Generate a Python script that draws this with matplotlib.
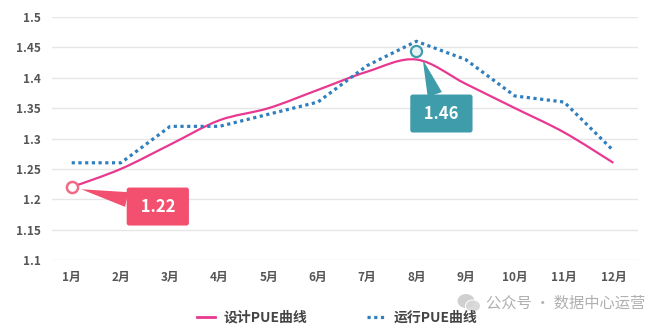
import matplotlib.pyplot as plt
from matplotlib.path import Path
from matplotlib.patches import PathPatch, Ellipse
from matplotlib.transforms import offset_copy

plt.rcParams['font.family'] = ['Noto Sans CJK SC', 'DejaVu Sans']

# ---------- données ----------
months = ["1月", "2月", "3月", "4月", "5月", "6月",
          "7月", "8月", "9月", "10月", "11月", "12月"]
design_pue = [1.22, 1.25, 1.29, 1.33, 1.35, 1.38, 1.41, 1.43, 1.39, 1.35, 1.31, 1.26]
run_pue = [1.26, 1.26, 1.32, 1.32, 1.34, 1.36, 1.42, 1.46, 1.43, 1.37, 1.36, 1.28]
y_ticks = [1.1, 1.15, 1.2, 1.25, 1.3, 1.35, 1.4, 1.45, 1.5]

PINK = "#e8388f"
BLUE = "#2f7fbf"
RED_TAG = "#f2506e"
TEAL_TAG = "#3f9cab"


def smooth_path(xs, ys, s=1 / 6):
    # courbe de Bézier cubique passant par chaque point (type Catmull-Rom)
    pts = list(zip(xs, ys))
    n = len(pts)
    verts = [pts[0]]
    codes = [Path.MOVETO]
    for i in range(n - 1):
        p0 = pts[max(i - 1, 0)]
        p1 = pts[i]
        p2 = pts[i + 1]
        p3 = pts[min(i + 2, n - 1)]
        c1 = (p1[0] + s * (p2[0] - p0[0]), p1[1] + s * (p2[1] - p0[1]))
        c2 = (p2[0] - s * (p3[0] - p1[0]), p2[1] - s * (p3[1] - p1[1]))
        verts += [c1, c2, p2]
        codes += [Path.CURVE4] * 3
    return Path(verts, codes)


fig = plt.figure(figsize=(6.7, 3.34), dpi=100)
ax = fig.add_axes([52 / 670, 1 - 260 / 334, 586 / 670, 243 / 334])

x = list(range(len(months)))

# courbe de conception (lissée)
ax.add_patch(PathPatch(smooth_path(x, design_pue), fill=False,
                       edgecolor=PINK, lw=1.6, zorder=3))
# courbe d'exploitation (pointillés)
ax.plot(x, run_pue, color=BLUE, lw=2.3, linestyle=(0, (1, 1.1)),
        dash_capstyle="butt", zorder=3)

# handles pour la légende
ax.plot([], [], color=PINK, lw=2, label="设计PUE曲线")
ax.plot([], [], color=BLUE, lw=2.3, linestyle=(0, (1, 1.1)),
        dash_capstyle="butt", label="运行PUE曲线")

# points annotés
i_min = 0
i_max = run_pue.index(max(run_pue))
ax.plot(x[i_min], design_pue[i_min], "o", ms=8, mfc="white",
        mec="#f06a85", mew=1.8, zorder=5)
ax.plot(x[i_max], run_pue[i_max], "o", ms=8, mfc="#e6f3f5",
        mec=TEAL_TAG, mew=1.6, zorder=5,
        transform=offset_copy(ax.transData, fig=fig, y=-7, units="points"))

tag_style = dict(textcoords="offset points", ha="center", va="center",
                 fontsize=12, fontweight="bold", color="white", zorder=6)
ax.annotate(f" {design_pue[i_min]:.2f} ", xy=(x[i_min], design_pue[i_min]),
            xytext=(62, -14),
            bbox=dict(boxstyle="round,pad=0.6,rounding_size=0.15",
                      fc=RED_TAG, ec="none"),
            arrowprops=dict(arrowstyle="wedge,tail_width=0.9", fc=RED_TAG,
                            ec="none", shrinkA=0, shrinkB=7),
            **tag_style)
ax.annotate(f" {run_pue[i_max]:.2f} ", xy=(x[i_max], run_pue[i_max]),
            xytext=(18, -52),
            bbox=dict(boxstyle="round,pad=0.6,rounding_size=0.15",
                      fc=TEAL_TAG, ec="none"),
            arrowprops=dict(arrowstyle="wedge,tail_width=0.9", fc=TEAL_TAG,
                            ec="none", shrinkA=0, shrinkB=14),
            **tag_style)

# axes
ax.set_xlim(-0.4, 11.5)
ax.set_ylim(1.1, 1.5)
ax.set_yticks(y_ticks)
ax.set_yticklabels([f"{v:g}" for v in y_ticks])
ax.set_xticks(x)
ax.set_xticklabels(months)
ax.tick_params(length=0, labelsize=8.5, labelcolor="#555555", pad=8)
for lab in ax.get_xticklabels() + ax.get_yticklabels():
    lab.set_fontweight("bold")
ax.grid(axis="y", color="#e6e6e6", lw=1)
ax.set_axisbelow(True)
for sp in ax.spines.values():
    sp.set_visible(False)

leg = fig.legend(loc="center", bbox_to_anchor=(0.503, 1 - 318 / 334), ncol=2,
                 frameon=False, fontsize=10, handlelength=1.3,
                 columnspacing=4.3, handletextpad=0.6)
for t in leg.get_texts():
    t.set_fontweight("bold")
    t.set_color("#444444")

# filigrane
icon = fig.add_axes([455 / 670, 1 - 315 / 334, 28 / 670, 24 / 334])
icon.set_xlim(0, 28)
icon.set_ylim(0, 24)
icon.axis("off")
icon.add_patch(Ellipse((11, 14), 17, 14, fc="#c8c8c8", ec="none", alpha=0.85))
icon.add_patch(Ellipse((18, 9), 15, 12, fc="#d6d6d6", ec="white", lw=0.8,
                       alpha=0.9))
fig.text(645 / 670, 1 - 303 / 334, "公众号 · 数据中心运营", ha="right", va="center",
         fontsize=11, color="#b0b0b0")

fig.savefig("out.png", dpi=100)
plt.close(fig)
